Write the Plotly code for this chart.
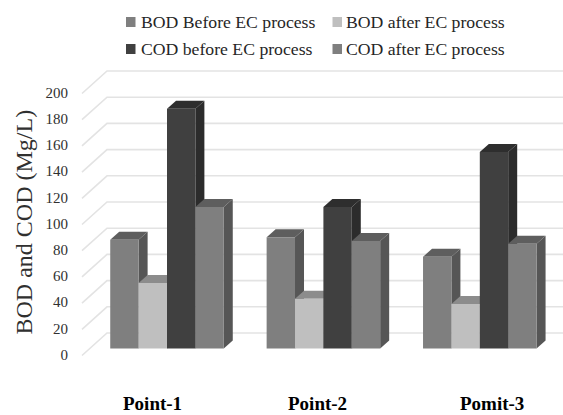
import plotly.graph_objects as go

WIDTH, HEIGHT = 563, 415

# Measured values per sampling point
categories = ["Point-1", "Point-2", "Pomit-3"]
series_names = ["BOD Before EC process", "BOD after EC process",
                "COD before EC process", "COD after EC process"]
bod_before = [83, 85, 70]
bod_after = [50, 38, 34]
cod_before = [183, 108, 150]
cod_after = [108, 82, 80]
series_values = [bod_before, bod_after, cod_before, cod_after]
tick_values = list(range(0, 201, 20))

# Face colours for each series: front, top, side
front_colors = ["#7f7f7f", "#bfbfbf", "#404040", "#7f7f7f"]
top_colors = ["#5e5e5e", "#8c8c8c", "#2e2e2e", "#5e5e5e"]
side_colors = ["#565656", "#808080", "#2c2c2c", "#565656"]

# Pixel scale of the full-bleed plot area
PX_PER_UNIT = 1.31
PX_PER_GROUP = 156.4
BASE_PX = 348.5
FIRST_GROUP_PX = 167.0
GROUP_WIDTH = 0.726
BAR_WIDTH = GROUP_WIDTH / len(series_values)


def dx(px):
    return px / PX_PER_GROUP


def dy(px):
    return px / PX_PER_UNIT


def xpx(px):
    return (px - FIRST_GROUP_PX) / PX_PER_GROUP


x_range = [xpx(0), xpx(WIDTH)]
y_range = [dy(BASE_PX - HEIGHT), dy(BASE_PX)]
label_shift = dy(6)
label_range = [y_range[0] + label_shift, y_range[1] + label_shift]

DEPTH_X, DEPTH_Y = dx(9), dy(8)
WALL_RISE = dy(15.5)
FLOOR_DROP = dy(7)

fig = go.Figure()

# Back wall gridlines with their diagonal run along the side wall
grid_x, grid_y = [], []
for v in tick_values:
    grid_x += [xpx(82), xpx(107), x_range[1], None]
    grid_y += [v - FLOOR_DROP, v + WALL_RISE, v + WALL_RISE, None]
fig.add_trace(go.Scatter(x=grid_x, y=grid_y, mode="lines", showlegend=False,
                         hoverinfo="skip",
                         line=dict(color="#e3e3e3", width=1.6)))

# Side and top faces go first; the bar fronts sit above them on an overlay axis
for s, values in enumerate(series_values):
    for g, v in enumerate(values):
        left = g - GROUP_WIDTH / 2 + s * BAR_WIDTH
        right = left + BAR_WIDTH
        fig.add_trace(go.Scatter(
            x=[right, right + DEPTH_X, right + DEPTH_X, right, right],
            y=[0, DEPTH_Y, v + DEPTH_Y, v, 0],
            mode="lines", fill="toself", fillcolor=side_colors[s],
            line=dict(width=0), showlegend=False, hoverinfo="skip"))
        fig.add_trace(go.Scatter(
            x=[left, left + DEPTH_X, right + DEPTH_X, right, left],
            y=[v, v + DEPTH_Y, v + DEPTH_Y, v, v],
            mode="lines", fill="toself", fillcolor=top_colors[s],
            line=dict(width=0), showlegend=False, hoverinfo="skip"))

group_positions = list(range(len(categories)))
for s, values in enumerate(series_values):
    fig.add_trace(go.Bar(x=group_positions, y=values, name=series_names[s],
                         yaxis="y2", marker=dict(color=front_colors[s], line_width=0),
                         showlegend=False))

# Invisible carrier for the tick-label axis
fig.add_trace(go.Scatter(x=[0] * len(tick_values), y=tick_values, yaxis="y3",
                         mode="markers", marker=dict(opacity=0),
                         showlegend=False, hoverinfo="skip"))

serif = "Liberation Serif"
annotations = []
shapes = []

# Legend laid out as a two-by-two block: swatch left edge, text left edge, row centre
legend_slots = [(126, 139.5, 22), (332.5, 345, 22), (126, 139.5, 49), (332.5, 345, 49)]
for s, (sx, tx, py) in enumerate(legend_slots):
    shapes.append(dict(type="rect", xref="paper", yref="paper", line_width=0,
                       fillcolor=front_colors[s],
                       x0=sx / WIDTH, x1=(sx + 9.5) / WIDTH,
                       y0=1 - (py + 5) / HEIGHT, y1=1 - (py - 5) / HEIGHT))
    annotations.append(dict(text=series_names[s], xref="paper", yref="paper",
                            x=tx / WIDTH, y=1 - py / HEIGHT,
                            xanchor="left", yanchor="middle", showarrow=False,
                            borderpad=0,
                            font=dict(family=serif, size=17.7, color="#262626")))

# Group labels below the bars
label_slots = [(152.5, 403), (317, 403.5), (492, 403.5)]
for name, (px, py) in zip(categories, label_slots):
    annotations.append(dict(text=name, xref="paper", yref="paper",
                            x=px / WIDTH, y=1 - py / HEIGHT,
                            xanchor="center", yanchor="middle", showarrow=False,
                            font=dict(family=serif, size=19, color="#000000", weight="bold")))

annotations.append(dict(text="BOD and COD (Mg/L)", xref="paper", yref="paper",
                        x=23 / WIDTH, y=1 - 222.5 / HEIGHT, textangle=-90,
                        xanchor="center", yanchor="middle", showarrow=False,
                        font=dict(family=serif, size=24, color="#303030")))

hidden = dict(visible=False, fixedrange=True)
fig.update_layout(
    width=WIDTH, height=HEIGHT,
    margin=dict(l=0, r=0, t=0, b=0),
    paper_bgcolor="white", plot_bgcolor="white",
    barmode="group", bargap=1 - GROUP_WIDTH, bargroupgap=0,
    xaxis=dict(range=x_range, domain=[0, 1], **hidden),
    yaxis=dict(range=y_range, domain=[0, 1], **hidden),
    yaxis2=dict(range=y_range, overlaying="y", **hidden),
    yaxis3=dict(range=label_range, overlaying="y", anchor="free", position=68 / WIDTH,
                side="left", tickmode="array", tickvals=tick_values,
                showgrid=False, zeroline=False, showline=False, ticks="",
                tickfont=dict(family=serif, size=15, color="#303030")),
    annotations=annotations, shapes=shapes, showlegend=False,
)

fig.write_html("out.html", config=dict(displayModeBar=False))
